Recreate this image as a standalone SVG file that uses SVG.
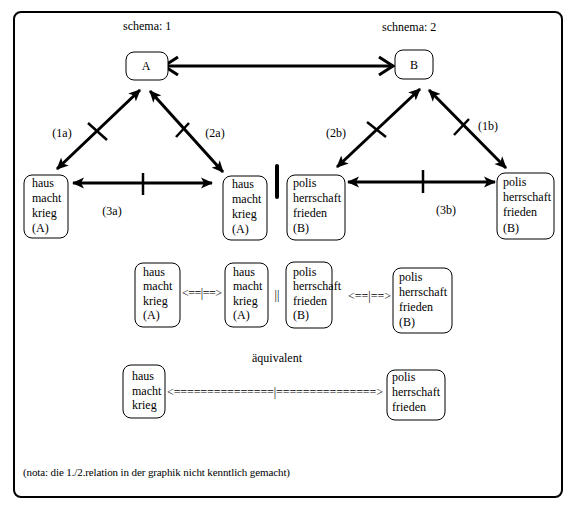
<svg xmlns="http://www.w3.org/2000/svg" width="574" height="509" viewBox="0 0 574 509">
<style>
text{font-family:'Liberation Serif','Times New Roman',serif;font-size:12px;fill:#000}
.box{fill:#fff;stroke:#000;stroke-width:1}
.con{stroke:#000;stroke-width:3;fill:none}
.tick{stroke:#000;stroke-width:2.5;fill:none}
.mid{text-anchor:middle}
</style>
<defs>
<marker id="fa" viewBox="0 0 12 12" refX="11" refY="6" markerWidth="12" markerHeight="12" markerUnits="userSpaceOnUse" orient="auto-start-reverse">
<path d="M0,0.5 L12,6 L0,11.5 L3,6 z" fill="#000"/>
</marker>
<marker id="va" viewBox="0 0 18 22" refX="16" refY="11" markerWidth="18" markerHeight="22" markerUnits="userSpaceOnUse" orient="auto-start-reverse">
<path d="M2,2 L16,11 L2,20" fill="none" stroke="#000" stroke-width="3"/>
</marker>
</defs>
<g font-family="Liberation Serif, Times New Roman, serif" font-size="12">
<rect x="14" y="12" width="548" height="485" rx="7" fill="#fff" stroke="#000" stroke-width="2"/>
<text x="123" y="30">schema: 1</text>
<text x="382" y="31">schnema: 2</text>
<g id="connectors">
<line class="con" x1="164" y1="66" x2="393" y2="66" marker-start="url(#va)" marker-end="url(#va)"/>
<line class="con" x1="140" y1="90" x2="57" y2="169" marker-start="url(#fa)" marker-end="url(#fa)"/>
<line class="tick" x1="88" y1="123" x2="107" y2="140"/>
<line class="con" x1="150" y1="91" x2="223" y2="172" marker-start="url(#fa)" marker-end="url(#fa)"/>
<line class="tick" x1="176" y1="137" x2="189" y2="123"/>
<line class="con" x1="73" y1="183" x2="212" y2="183" marker-start="url(#fa)" marker-end="url(#fa)"/>
<line class="tick" x1="143" y1="173" x2="143" y2="195"/>
<line class="con" x1="420" y1="89" x2="337" y2="167" marker-start="url(#fa)" marker-end="url(#fa)"/>
<line class="tick" x1="367" y1="122" x2="386" y2="137"/>
<line class="con" x1="429" y1="90" x2="506" y2="168" marker-start="url(#fa)" marker-end="url(#fa)"/>
<line class="tick" x1="454" y1="135" x2="469" y2="119"/>
<line class="con" x1="348" y1="182" x2="495" y2="182" marker-start="url(#fa)" marker-end="url(#fa)"/>
<line class="tick" x1="423" y1="170" x2="423" y2="193"/>
<line x1="277" y1="166" x2="277" y2="197" stroke="#000" stroke-width="4" stroke-linecap="round"/>
</g>
<text class="mid" x="62" y="137">(1a)</text>
<text class="mid" x="215" y="137">(2a)</text>
<text class="mid" x="112" y="215">(3a)</text>
<text class="mid" x="336" y="137">(2b)</text>
<text class="mid" x="488" y="130">(1b)</text>
<text class="mid" x="446" y="214">(3b)</text>
<g id="nodeA"><rect class="box" x="126" y="52" width="42" height="28" rx="8"/><text class="mid" x="146" y="70">A</text></g>
<g id="nodeB"><rect class="box" x="395" y="50" width="38" height="29" rx="8"/><text class="mid" x="414" y="69">B</text></g>
<g id="haus1"><rect class="box" x="24" y="175" width="44" height="63" rx="8"/><text x="32" y="187">haus<tspan x="32" y="202">macht</tspan><tspan x="32" y="217">krieg</tspan><tspan x="32" y="232">(A)</tspan></text></g>
<g id="haus2"><rect class="box" x="223" y="176" width="44" height="64" rx="8"/><text x="232" y="188">haus<tspan x="232" y="203">macht</tspan><tspan x="232" y="218">krieg</tspan><tspan x="232" y="233">(A)</tspan></text></g>
<g id="polis1"><rect class="box" x="287" y="175" width="58" height="65" rx="8"/><text x="293" y="187">polis<tspan x="293" y="202">herrschaft</tspan><tspan x="293" y="217">frieden</tspan><tspan x="293" y="232">(B)</tspan></text></g>
<g id="polis2"><rect class="box" x="497" y="173" width="57" height="66" rx="8"/><text x="503" y="186">polis<tspan x="503" y="201">herrschaft</tspan><tspan x="503" y="216">frieden</tspan><tspan x="503" y="232">(B)</tspan></text></g>
<g id="haus3"><rect class="box" x="135" y="263" width="45" height="64" rx="8"/><text x="143" y="276">haus<tspan x="143" y="290">macht</tspan><tspan x="143" y="305">krieg</tspan><tspan x="143" y="319">(A)</tspan></text></g>
<text x="182" y="297" textLength="40">&lt;==|==&gt;</text>
<g id="haus4"><rect class="box" x="225" y="263" width="43" height="64" rx="8"/><text x="233" y="276">haus<tspan x="233" y="290">macht</tspan><tspan x="233" y="305">krieg</tspan><tspan x="233" y="319">(A)</tspan></text></g>
<text class="mid" x="277" y="299">||</text>
<g id="polis3"><rect class="box" x="286" y="262" width="46" height="66" rx="8"/><text x="293" y="276">polis<tspan x="293" y="290">herrschaft</tspan><tspan x="293" y="305">frieden</tspan><tspan x="293" y="319">(B)</tspan></text></g>
<text x="348" y="300" textLength="43">&lt;==|==&gt;</text>
<g id="polis4"><rect class="box" x="393" y="268" width="59" height="65" rx="8"/><text x="399" y="281">polis<tspan x="399" y="296">herrschaft</tspan><tspan x="399" y="311">frieden</tspan><tspan x="399" y="326">(B)</tspan></text></g>
<text class="mid" x="277" y="362">äquivalent</text>
<g id="haus5"><rect class="box" x="123" y="365" width="42" height="53" rx="8"/><text x="132" y="380">haus<tspan x="132" y="395">macht</tspan><tspan x="132" y="409">krieg</tspan></text></g>
<text x="167" y="396" textLength="216">&lt;===============|===============&gt;</text>
<g id="polis5"><rect class="box" x="387" y="370" width="58" height="50" rx="8"/><text x="392" y="381">polis<tspan x="392" y="396">herrschaft</tspan><tspan x="392" y="411">frieden</tspan></text></g>
<text x="23" y="476" style="font-size:11px" textLength="267">(nota: die 1./2.relation in der graphik nicht kenntlich gemacht)</text>
</g>
</svg>
